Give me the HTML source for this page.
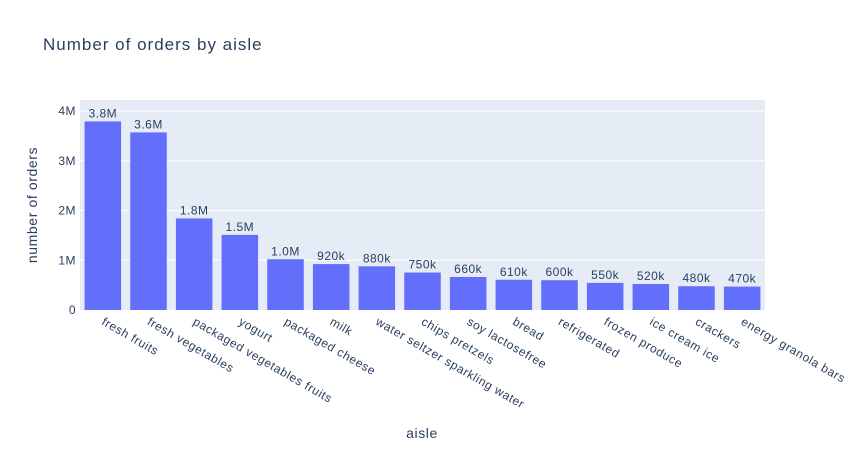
<!DOCTYPE html>
<html><head><meta charset="utf-8"><style>
body{margin:0;background:#fff;}
svg text{font-family:"Liberation Sans",Arial,sans-serif;fill:#2a3f5f;}
</style></head><body>
<svg id="chart" width="862" height="450" xmlns="http://www.w3.org/2000/svg">
<rect width="862" height="450" fill="#fff"/>
<text x="43" y="50" font-size="17" letter-spacing="1">Number of orders by aisle</text>
<rect x="80" y="100" width="685" height="210" fill="#e5ecf6"/>
<g id="grid"></g><g id="bars"></g><g id="labels"></g><g id="yticks"></g><g id="xticks"></g>
<text x="422" y="438" font-size="14" letter-spacing="0.6" text-anchor="middle">aisle</text>
<text transform="translate(37,205) rotate(-90)" font-size="14" letter-spacing="0.6" text-anchor="middle">number of orders</text>
</svg>
<script>
const categories=["fresh fruits","fresh vegetables","packaged vegetables fruits","yogurt","packaged cheese","milk","water seltzer sparkling water","chips pretzels","soy lactosefree","bread","refrigerated","frozen produce","ice cream ice","crackers","energy granola bars"];
const values=[3790000,3570000,1840000,1510000,1020000,923000,878000,753000,664000,608000,599000,545000,522000,478000,471000];
const valueLabels=["3.8M","3.6M","1.8M","1.5M","1.0M","920k","880k","750k","660k","610k","600k","550k","520k","480k","470k"];
const yTicks=[0,1000000,2000000,3000000,4000000];
const yTickLabels=["0","1M","2M","3M","4M"];
const NS="http://www.w3.org/2000/svg";
const X0=80,W=685,Y0=310,PPU=49.75/1000000;
const band=W/categories.length;
const xc=i=>X0+band*(i+0.5);
const y=v=>Y0-v*PPU;
function mk(tag,attrs,parent,txt){const e=document.createElementNS(NS,tag);for(const k in attrs)e.setAttribute(k,attrs[k]);if(txt!=null)e.textContent=txt;document.getElementById(parent).appendChild(e);return e;}
yTicks.forEach((t,i)=>{
 if(t>0){const g=mk("line",{x1:X0,x2:X0+W,y1:y(t),y2:y(t),stroke:"#fff","stroke-width":1},"grid");
 
 }
 const l=mk("text",{x:X0-4,y:y(t)+4,"font-size":12,"letter-spacing":0.5,"text-anchor":"end"},"yticks",yTickLabels[i]);
 
 
});
const bw=band*0.8;
values.forEach((v,i)=>{
 const r=mk("rect",{x:xc(i)-bw/2,y:y(v),width:bw,height:Y0-y(v),fill:"#636efa"},"bars");
 
 
 const t=mk("text",{x:xc(i),y:y(v)-4,"font-size":12,"letter-spacing":0.5,"text-anchor":"middle"},"labels",valueLabels[i]);
 
 
 const xl=mk("text",{transform:`translate(${xc(i)-2},${Y0+14}) rotate(30)`,"font-size":12,"letter-spacing":0.6,"text-anchor":"start"},"xticks",categories[i]);
 
 
});
</script>
</body></html>
